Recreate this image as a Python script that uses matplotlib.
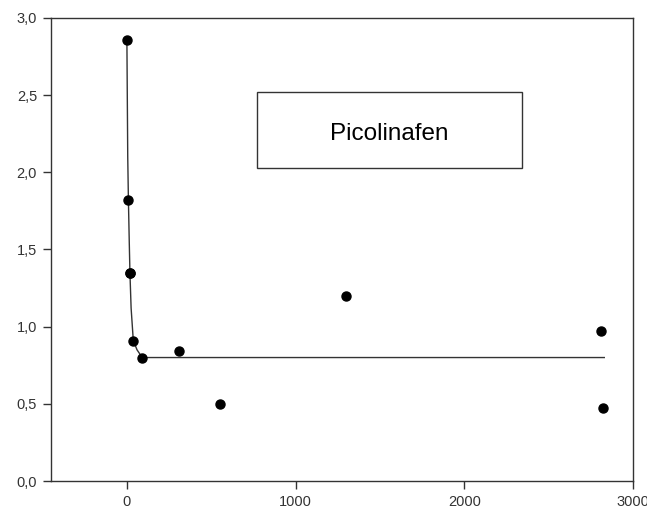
import numpy as np
import matplotlib.pyplot as plt
from matplotlib.ticker import FuncFormatter, FixedLocator

# Measured residue values (time vs. concentration)
time_obs = [0, 9, 17, 20, 38, 91, 307, 552, 1300, 2813, 2825]
conc_obs = [2.86, 1.82, 1.35, 1.35, 0.91, 0.80, 0.84, 0.50, 1.20, 0.97, 0.47]

time_fit = [0, 2, 5, 9, 14, 18, 25, 38, 60, 91, 2830]
conc_fit = [2.86, 2.55, 2.10, 1.82, 1.55, 1.35, 1.12, 0.91, 0.85, 0.80, 0.80]

x_ticks = [0, 1000, 2000, 3000]
y_ticks = [0.0, 0.5, 1.0, 1.5, 2.0, 2.5, 3.0]
compound = 'Picolinafen'

plt.rcParams['font.family'] = ['Liberation Sans', 'DejaVu Sans']

fig = plt.figure(figsize=(6.47, 5.18), dpi=100)
ax = fig.add_axes([0.0788, 0.0714, 0.8995, 0.8939])

ax.plot(time_fit, conc_fit, color='#333333', linewidth=1.0, zorder=2)
ax.plot(time_obs, conc_obs, linestyle='None', marker='o', markersize=6.5,
        color='black', zorder=3)

ax.set_xlim(-450, 3000)
ax.set_ylim(0, 3.0)
ax.xaxis.set_major_locator(FixedLocator(x_ticks))
ax.yaxis.set_major_locator(FixedLocator(y_ticks))
ax.yaxis.set_major_formatter(FuncFormatter(lambda v, pos: f'{v:.1f}'.replace('.', ',')))
ax.xaxis.set_major_formatter(FuncFormatter(lambda v, pos: f'{int(v)}'))

for side in ['left', 'right', 'top', 'bottom']:
    ax.spines[side].set_color('#333333')
    ax.spines[side].set_linewidth(1.0)
ax.tick_params(direction='out', length=6, width=1.0, color='#333333',
               labelsize=10.5, labelcolor='#333333', pad=4)
ax.tick_params(top=False, right=False)

# Label box with compound name
box = plt.Rectangle((0.354, 0.676), 0.455, 0.164, transform=ax.transAxes,
                    facecolor='white', edgecolor='#333333', linewidth=1.0, zorder=3.5)
ax.add_patch(box)
ax.text(0.5815, 0.75, compound, transform=ax.transAxes, ha='center', va='center',
        fontsize=17.5, color='black', zorder=4)

fig.savefig('out.png', dpi=100)
